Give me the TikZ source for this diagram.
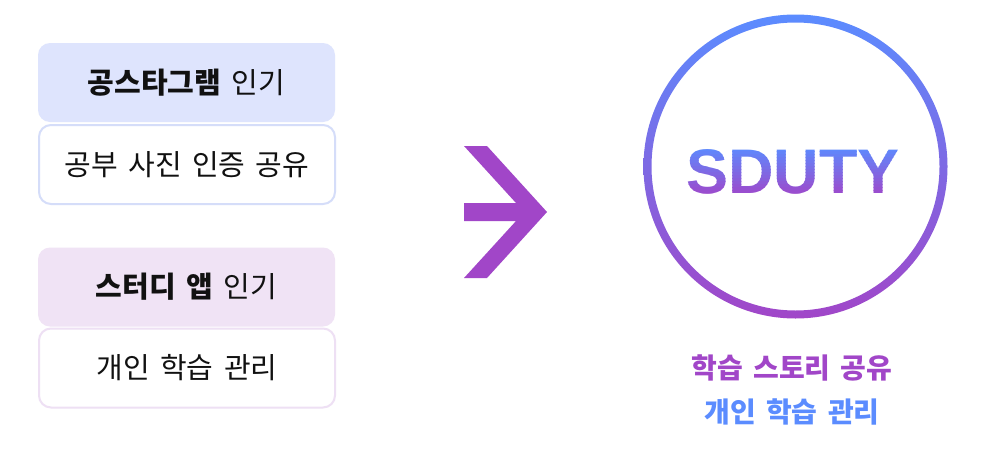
\documentclass[tikz,border=0pt]{standalone}
\usepackage{fontspec}
\newfontfamily\kr{Noto Sans CJK KR}[WordSpace=1.6]
\newfontfamily\logofont{Liberation Sans}
\definecolor{sdblue}{HTML}{5B8CFF}
\definecolor{sdpurple}{HTML}{A146C8}
\definecolor{hdblue}{HTML}{DEE4FD}
\definecolor{bdblue}{HTML}{D5DDF9}
\definecolor{hdpurple}{HTML}{F0E3F5}
\definecolor{bdpurple}{HTML}{EEE0F4}
\definecolor{txt}{HTML}{111111}
\begin{document}
\begin{tikzpicture}[x=1pt,y=-1pt,
  headbox/.style={rounded corners=12pt, minimum width=297pt, minimum height=79pt, inner sep=0pt, text=txt, font=\kr\fontsize{29}{33}\selectfont},
  bodybox/.style={draw, line width=2pt, fill=white, rounded corners=12pt, minimum width=296pt, minimum height=79pt, inner sep=0pt, text=txt, font=\kr\fontsize{29}{33}\selectfont},
  captxt/.style={font=\kr\bfseries\fontsize{28}{32}\selectfont, inner sep=0pt}
]
\useasboundingbox (0,0) rectangle (1006,474);
\fill[white] (0,0) rectangle (1006,474);

% group 1
\node[headbox, fill=hdblue] (h1) at (186.5,82.5) {\textbf{공스타그램} 인기};
\node[bodybox, draw=bdblue] (b1) at (187,164.5) {공부 사진 인증 공유};
% group 2
\node[headbox, fill=hdpurple] (h2) at (186.5,287) {\textbf{스터디 앱} 인기};
\node[bodybox, draw=bdpurple] (b2) at (187,368) {개인 학습 관리};

% arrow
\fill[sdpurple] (464,146) -- (487,146) -- (547,212) -- (487,278) -- (464,278)
  -- (516,221) -- (464,221) -- (464,203) -- (516,203) -- cycle;

% logo circle
\node[circle, minimum size=304pt, inner sep=0pt] (logo) at (795.5,166.5) {};
\shade[even odd rule, top color=sdblue, bottom color=sdpurple]
  (logo.center) circle (152pt) (logo.center) circle (144pt);

% gradient text SDUTY
\foreach \i in {0,...,17} {
  \pgfmathsetmacro{\p}{\i*100/17}
  \begin{scope}
    \clip (600,{145+\i*3}) rectangle (1000,{148+\i*3});
    \node[anchor=base, inner sep=0pt, text=sdpurple!\p!sdblue, font=\logofont\bfseries\fontsize{63}{70}\selectfont] (sd\i) at (793,193) {SDUTY};
  \end{scope}
}

% captions
\node[captxt, text=sdpurple] (c1) at (792,368) {학습 스토리 공유};
\node[captxt, text=sdblue] (c2) at (792,412) {개인 학습 관리};
\end{tikzpicture}
\end{document}
